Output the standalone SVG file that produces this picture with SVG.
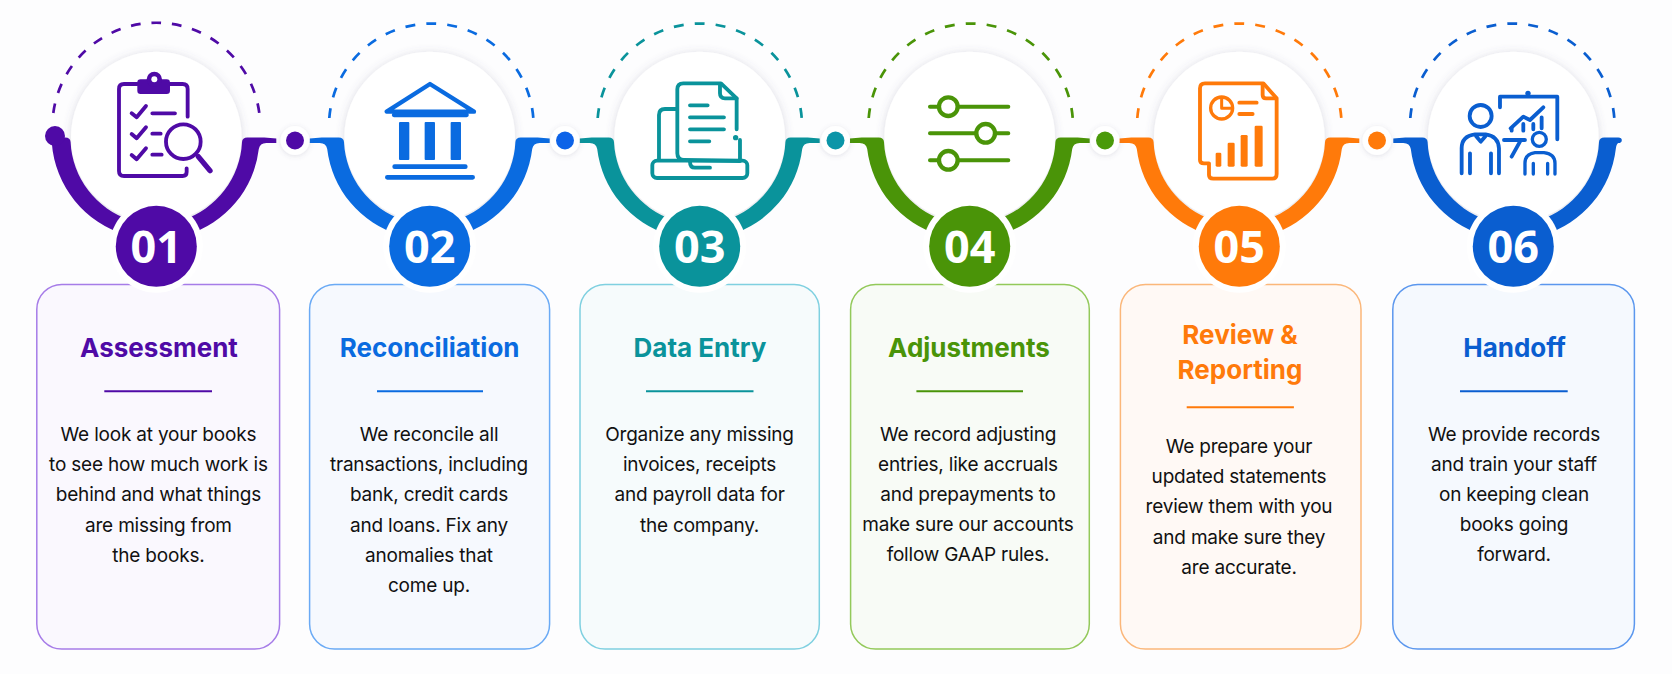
<svg xmlns="http://www.w3.org/2000/svg" width="1672" height="674" viewBox="0 0 1672 674">
<style>
.s1{color:#4f0aa6}.s2{color:#0a6be0}.s3{color:#0a939b}.s4{color:#4a9408}.s5{color:#ff7a0a}.s6{color:#0a5ed0}
.band{fill:currentColor}
.dash{fill:none;stroke:currentColor;stroke-width:2.7;stroke-dasharray:10.5 11.6}
.disc{fill:#fff;filter:url(#soft)}
.ring{fill:#fff}
.badge{fill:currentColor}
.num{font:700 45px "Open Sans","Liberation Sans",Arial,sans-serif;fill:#fff;text-anchor:middle}
.card{stroke-width:1.5}
.title{font:700 26px Inter,"Liberation Sans",sans-serif;fill:currentColor;text-anchor:middle}
.body{font:400 19px Inter,"Liberation Sans",sans-serif;fill:#111;text-anchor:middle;letter-spacing:-.2px}
.rule{stroke:currentColor;stroke-width:2}
.ic{fill:none;stroke:currentColor;stroke-width:11.5;stroke-linecap:round;stroke-linejoin:round}
.icf{fill:currentColor;stroke:none}
.halo{fill:#fff;filter:url(#soft2)}
</style>
<defs>
<filter id="soft" x="-20%" y="-20%" width="140%" height="140%"><feDropShadow dx="0" dy="1" stdDeviation="4" flood-color="#5a5a80" flood-opacity=".22"/></filter>
<filter id="soft2" x="-50%" y="-50%" width="200%" height="200%"><feDropShadow dx="0" dy="1" stdDeviation="2.5" flood-color="#5a5a80" flood-opacity=".18"/></filter>
<path id="half" d="M85.7 5Q86 .5 91 .5L108 .5L120 1.5L120 6L110 6Q103.5 6 102.5 12A102.5 102.5 0 0 1 30 98L26 83A86 86 0 0 0 85.7 5Z"/>
<path id="halfPlain" d="M-85.7 5Q-86 .5-91 .5L-103 .5L-104.5 6A104 104 0 0 0-30 98L-26 83A86 86 0 0 1-85.7 5Z"/>
<path id="halfEnd" d="M85.7 5Q86 .5 91 .5L105 .5Q108.5 .5 108.5 3.2Q108.5 6 105 6Q103 7 102.5 12A102.5 102.5 0 0 1 30 98L26 83A86 86 0 0 0 85.7 5Z"/>
</defs>
<rect width="1672" height="674" fill="#fdfdfe"/>

<g id="step1" class="s1">
<rect class="card" x="36.8" y="284.5" width="242.8" height="364.5" rx="25" fill="#faf8fe" stroke="#a67ce8"/>
<circle class="disc" cx="156.3" cy="137" r="85.3"/>
<path class="dash" pathLength="320" d="M53.3 113A103.9 103.9 0 0 1 259.3 113"/>
<use href="#half" class="band" transform="translate(156.3 137)"/>
<use href="#halfPlain" class="band" transform="translate(156.3 137)"/>
<circle class="badge" cx="55" cy="136" r="10"/>
<circle class="ring" cx="156.3" cy="246.3" r="46.5"/>
<circle class="badge" cx="156.3" cy="246.3" r="40.5"/>
<text class="num" x="156.3" y="262.5">01</text>
<g transform="translate(20 0) scale(.3333)">
<path class="ic" d="M352 252H312Q297 252 297 267V513Q297 528 312 528H488Q500 528 500 516V505M450 252H488Q503 252 503 267V350"/>
<rect class="icf" x="352" y="238" width="98" height="44" rx="10"/>
<circle class="icf" cx="403" cy="238" r="23"/><circle cx="403" cy="238" r="9" fill="#fff"/>
<path class="ic" d="M335 340L350 352L378 318M335 402L350 415L378 382M335 465L350 478L378 445"/>
<path class="ic" d="M397 340H465M397 401H422M397 464H425"/>
<circle class="ic" cx="490" cy="425" r="52" style="fill:#fff"/>
<path class="ic" style="stroke-width:16" d="M535 470L570 512"/>
</g>
<text class="title" x="159" y="357">Assessment</text>
<line class="rule" x1="104.3" x2="212" y1="391.3" y2="391.3"/>
<text class="body"><tspan x="158.4" y="440.7">We look at your books</tspan><tspan x="158.4" y="471">to see how much work is</tspan><tspan x="158.4" y="501.3">behind and what things</tspan><tspan x="158.4" y="531.6">are missing from</tspan><tspan x="158.4" y="562">the books.</tspan></text>
</g>

<g id="step2" class="s2">
<rect class="card" x="309.6" y="284.5" width="240" height="364.5" rx="25" fill="#f6f9fe" stroke="#6aaaf5"/>
<circle class="disc" cx="429.7" cy="137" r="85.3"/>
<path class="dash" pathLength="320" d="M329.3 118A102.3 102.3 0 0 1 533.3 118"/>
<use href="#half" class="band" transform="translate(429.7 137)"/>
<use href="#half" class="band" transform="translate(429.7 137) scale(-1 1)"/>
<circle class="ring" cx="429.7" cy="246.3" r="46.5"/>
<circle class="badge" cx="429.7" cy="246.3" r="40.5"/>
<text class="num" x="429.7" y="262.5">02</text>
<g transform="translate(280 0) scale(.3333)">
<path class="ic" style="stroke-width:13" d="M450 252L320 335H582Z"/>
<path class="ic" style="stroke-width:13" d="M342 345H560"/>
<rect class="icf" x="357" y="366" width="31" height="114" rx="3"/><rect class="icf" x="434" y="366" width="31" height="114" rx="3"/><rect class="icf" x="512" y="366" width="31" height="114" rx="3"/>
<path class="ic" style="stroke-width:14" d="M344 500H556M322 532H578"/>
</g>
<text class="title" x="429.6" y="357">Reconciliation</text>
<line class="rule" x1="377" x2="483" y1="391.3" y2="391.3"/>
<text class="body"><tspan x="429" y="440.7">We reconcile all</tspan><tspan x="429" y="471">transactions, including</tspan><tspan x="429" y="501.3">bank, credit cards</tspan><tspan x="429" y="531.6">and loans. Fix any</tspan><tspan x="429" y="562">anomalies that</tspan><tspan x="429" y="592.3">come up.</tspan></text>
</g>

<g id="step3" class="s3">
<rect class="card" x="580" y="284.5" width="239.3" height="364.5" rx="25" fill="#f6fbfc" stroke="#7fd0e0"/>
<circle class="disc" cx="699.7" cy="137" r="85.3"/>
<path class="dash" pathLength="320" d="M597.7 118A102.3 102.3 0 0 1 801.7 118"/>
<use href="#half" class="band" transform="translate(699.7 137)"/>
<use href="#half" class="band" transform="translate(699.7 137) scale(-1 1)"/>
<circle class="ring" cx="699.7" cy="246.3" r="46.5"/>
<circle class="badge" cx="699.7" cy="246.3" r="40.5"/>
<text class="num" x="699.7" y="262.5">03</text>
<g transform="translate(540 0) scale(.3333)">
<path class="ic" d="M410 327H375Q357 327 357 345V480"/>
<path class="ic" d="M590 388V295L543 250H430Q412 250 412 268V460Q412 480 432 480L600 483V420"/>
<path class="ic" d="M540 255V280Q540 295 555 295H590"/>
<circle class="icf" cx="587" cy="413" r="8"/>
<path class="ic" d="M450 316H503M450 352H552M450 388H552M450 424H508"/>
<rect class="ic" x="337" y="482" width="285" height="52" rx="14"/>
<path class="ic" d="M450 485Q450 503 465 503H510"/>
</g>
<text class="title" x="700" y="357">Data Entry</text>
<line class="rule" x1="646" x2="753.5" y1="391.3" y2="391.3"/>
<text class="body"><tspan x="699.5" y="440.7">Organize any missing</tspan><tspan x="699.5" y="471">invoices, receipts</tspan><tspan x="699.5" y="501.3">and payroll data for</tspan><tspan x="699.5" y="531.6">the company.</tspan></text>
</g>

<g id="step4" class="s4">
<rect class="card" x="850.6" y="284.5" width="238.7" height="364.5" rx="25" fill="#f8fbf6" stroke="#93c95a"/>
<circle class="disc" cx="969.7" cy="137" r="85.3"/>
<path class="dash" pathLength="320" d="M868.7 118A102.3 102.3 0 0 1 1072.7 118"/>
<use href="#half" class="band" transform="translate(969.7 137)"/>
<use href="#half" class="band" transform="translate(969.7 137) scale(-1 1)"/>
<circle class="ring" cx="969.7" cy="246.3" r="46.5"/>
<circle class="badge" cx="969.7" cy="246.3" r="40.5"/>
<text class="num" x="969.7" y="262.5">04</text>
<g transform="translate(800 0) scale(.3333)">
<path class="ic" style="stroke-width:12" d="M390 320H625M390 400H625M390 481H625"/>
<circle class="ic" style="fill:#fff;stroke-width:13" cx="445" cy="320" r="28"/><circle class="ic" style="fill:#fff;stroke-width:13" cx="557" cy="400" r="28"/><circle class="ic" style="fill:#fff;stroke-width:13" cx="445" cy="481" r="28"/>
</g>
<text class="title" x="969" y="357">Adjustments</text>
<line class="rule" x1="916.4" x2="1023" y1="391.3" y2="391.3"/>
<text class="body"><tspan x="968" y="440.7">We record adjusting</tspan><tspan x="968" y="471">entries, like accruals</tspan><tspan x="968" y="501.3">and prepayments to</tspan><tspan x="968" y="531">make sure our accounts</tspan><tspan x="968" y="561">follow GAAP rules.</tspan></text>
</g>

<g id="step5" class="s5">
<rect class="card" x="1120.4" y="284.5" width="240.6" height="364.5" rx="25" fill="#fff9f5" stroke="#fbb77a"/>
<circle class="disc" cx="1239.3" cy="137" r="85.3"/>
<path class="dash" pathLength="320" d="M1137.3 118A102.3 102.3 0 0 1 1341.3 118"/>
<use href="#half" class="band" transform="translate(1239.3 137)"/>
<use href="#half" class="band" transform="translate(1239.3 137) scale(-1 1)"/>
<circle class="ring" cx="1239.3" cy="246.3" r="46.5"/>
<circle class="badge" cx="1239.3" cy="246.3" r="40.5"/>
<text class="num" x="1239.3" y="262.5">05</text>
<g transform="translate(1060 0) scale(.3333)">
<path class="ic" d="M610 250H435Q420 250 420 265V480Q420 490 432 490H447V525Q447 536 460 536H637Q650 536 650 522V295Z"/>
<path class="ic" d="M608 255V285Q608 295 618 295H648"/>
<circle class="ic" style="stroke-width:10" cx="485" cy="324" r="33"/>
<path class="ic" style="stroke-width:9" d="M485 296V325H514"/>
<path class="ic" d="M538 308H590M538 342H578"/>
<rect class="icf" x="467" y="458" width="17" height="42" rx="4"/><rect class="icf" x="503" y="428" width="21" height="72" rx="4"/><rect class="icf" x="542" y="405" width="21" height="95" rx="4"/><rect class="icf" x="584" y="377" width="24" height="123" rx="4"/>
</g>
<text class="title"><tspan x="1240" y="344">Review &amp;</tspan><tspan x="1240" y="379">Reporting</tspan></text>
<line class="rule" x1="1186.7" x2="1293.9" y1="407.3" y2="407.3"/>
<text class="body"><tspan x="1239" y="452.7">We prepare your</tspan><tspan x="1239" y="483">updated statements</tspan><tspan x="1239" y="513.3">review them with you</tspan><tspan x="1239" y="543.6">and make sure they</tspan><tspan x="1239" y="574">are accurate.</tspan></text>
</g>

<g id="step6" class="s6">
<rect class="card" x="1392.8" y="284.5" width="241.6" height="364.5" rx="25" fill="#f5f9fe" stroke="#5b97ee"/>
<circle class="disc" cx="1513.3" cy="137" r="85.3"/>
<path class="dash" pathLength="320" d="M1410.3 118A102.3 102.3 0 0 1 1614.3 118"/>
<use href="#halfEnd" class="band" transform="translate(1513.3 137)"/>
<use href="#half" class="band" transform="translate(1513.3 137) scale(-1 1)"/>
<circle class="ring" cx="1513.3" cy="246.3" r="46.5"/>
<circle class="badge" cx="1513.3" cy="246.3" r="40.5"/>
<text class="num" x="1513.3" y="262.5">06</text>
<g transform="translate(1320 0) scale(.3333)">
<circle class="ic" cx="482" cy="348" r="33"/>
<path class="ic" d="M425 520V445Q425 408 465 403H497Q535 408 537 445V520M468 408L482 425L497 408M450 460V520M513 460V520"/>
<path class="ic" d="M540 322V290H712V418"/>
<circle class="icf" cx="624" cy="280" r="8"/>
<path class="ic" d="M572 385L610 350L630 360L670 322"/>
<path class="ic" d="M575 385V392M610 372V392M640 372V388M665 352V385"/>
<path class="ic" d="M552 420H615M600 425L575 470"/>
<circle class="ic" style="stroke-width:10" cx="658" cy="418" r="21"/>
<path class="ic" style="stroke-width:10" d="M615 522V490Q615 462 645 458H672Q705 462 705 490V522M640 490V522M683 490V522"/>
</g>
<text class="title" x="1514.6" y="357">Handoff</text>
<line class="rule" x1="1460" x2="1567.7" y1="391.3" y2="391.3"/>
<text class="body"><tspan x="1514" y="440.7">We provide records</tspan><tspan x="1514" y="471">and train your staff</tspan><tspan x="1514" y="501.3">on keeping clean</tspan><tspan x="1514" y="531">books going</tspan><tspan x="1514" y="561">forward.</tspan></text>
</g>

<g id="connectors">
<circle class="halo" cx="295" cy="140.5" r="14.5"/><circle fill="#4f0aa6" cx="295" cy="140.5" r="9"/>
<circle class="halo" cx="565" cy="140.5" r="14.5"/><circle fill="#0d63e8" cx="565" cy="140.5" r="9"/>
<circle class="halo" cx="835.5" cy="140.5" r="14.5"/><circle fill="#0b95a8" cx="835.5" cy="140.5" r="9"/>
<circle class="halo" cx="1105" cy="140.5" r="14.5"/><circle fill="#4a9a0a" cx="1105" cy="140.5" r="9"/>
<circle class="halo" cx="1377" cy="140.5" r="14.5"/><circle fill="#ff7a0a" cx="1377" cy="140.5" r="9"/>
</g>
</svg>
